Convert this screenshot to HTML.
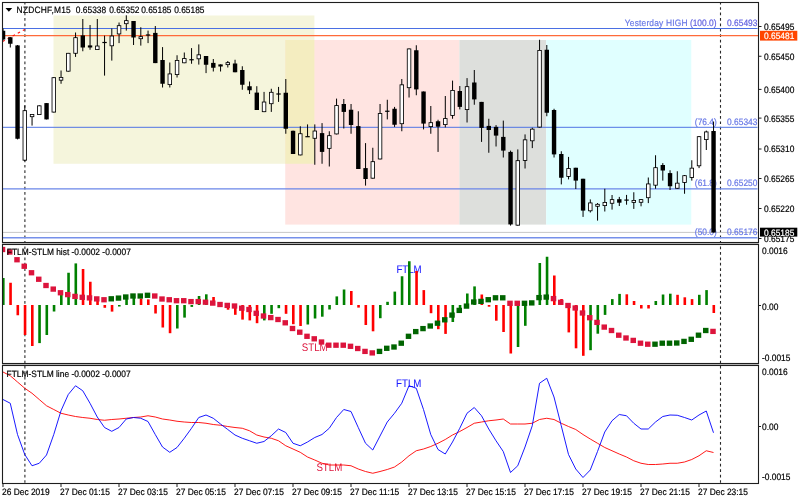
<!DOCTYPE html><html><head><meta charset="utf-8"><title>NZDCHF,M15</title><style>html,body{margin:0;padding:0;background:#fff;width:800px;height:502px;overflow:hidden}svg{display:block}</style></head><body><svg width="800" height="502" viewBox="0 0 800 502" font-family="'Liberation Sans', Arial, sans-serif" font-size="9.2" text-rendering="geometricPrecision"><rect x="0" y="0" width="800" height="502" fill="#ffffff"/><defs><clipPath id="cm"><rect x="3" y="3" width="755" height="239"/></clipPath><clipPath id="c1"><rect x="3" y="245" width="755" height="118"/></clipPath><clipPath id="c2"><rect x="3" y="366" width="755" height="117"/></clipPath></defs><g clip-path="url(#cm)"><rect x="53.5" y="15.5" width="260.9" height="148.25" fill="#F5F5DC"/><rect x="285.25" y="40" width="174.14999999999998" height="184.6" fill="#FFE4E1"/><rect x="285.25" y="40" width="29.149999999999977" height="123.75" fill="#F4EDC0"/><rect x="459.4" y="40" width="86.80000000000007" height="184.6" fill="#DDDFDC"/><rect x="546.2" y="40" width="145.04999999999995" height="184.6" fill="#E0FFFF"/><line x1="24.9" y1="3" x2="24.9" y2="242" stroke="#2a2a2a" stroke-width="1.1" stroke-dasharray="2.72,2.72" stroke-dashoffset="1.30"/><line x1="720.5" y1="3" x2="720.5" y2="242" stroke="#2a2a2a" stroke-width="1.1" stroke-dasharray="2.72,2.72" stroke-dashoffset="1.30"/><line x1="3" y1="28.5" x2="757.5" y2="28.5" stroke="#4A6FE3" stroke-width="1"/><line x1="3" y1="35.6" x2="758" y2="35.6" stroke="#FF6A3A" stroke-width="1.2"/><line x1="3" y1="127.3" x2="757.5" y2="127.3" stroke="#4F74E4" stroke-width="1"/><line x1="3" y1="188.85" x2="757.5" y2="188.85" stroke="#6A86E8" stroke-width="1.2"/><line x1="3" y1="237.75" x2="757.5" y2="237.75" stroke="#7690EA" stroke-width="1.3"/><line x1="3" y1="232.4" x2="758" y2="232.4" stroke="#C8C8C8" stroke-width="1"/><line x1="2.5" y1="41.6" x2="24.8" y2="29.4" stroke="#FF1010" stroke-width="1.1" stroke-dasharray="2.6,3.2"/><text transform="translate(624.80 26.00) scale(0.913 1)" fill="#6878E6" stroke="#6878E6" stroke-width="0.2" letter-spacing="0.2">Yesterday HIGH</text><text transform="translate(716.50 26.00) scale(0.913 1)" fill="#6262E0" stroke="#6262E0" stroke-width="0.2" text-anchor="end">(100.0)</text><text transform="translate(757.40 26.00) scale(0.913 1)" fill="#6262E0" stroke="#6262E0" stroke-width="0.2" text-anchor="end">0.65493</text><text transform="translate(716.80 125.00) scale(0.913 1)" fill="#6878E6" stroke="#6878E6" stroke-width="0.2" text-anchor="end">(76.4)</text><text transform="translate(757.40 125.00) scale(0.913 1)" fill="#6878E6" stroke="#6878E6" stroke-width="0.2" text-anchor="end">0.65343</text><text transform="translate(716.80 186.30) scale(0.913 1)" fill="#6878E6" stroke="#6878E6" stroke-width="0.2" text-anchor="end">(61.8)</text><text transform="translate(757.40 186.30) scale(0.913 1)" fill="#6878E6" stroke="#6878E6" stroke-width="0.2" text-anchor="end">0.65250</text><text transform="translate(716.80 235.40) scale(0.913 1)" fill="#6878E6" stroke="#6878E6" stroke-width="0.2" text-anchor="end">(50.0)</text><text transform="translate(757.40 235.40) scale(0.913 1)" fill="#6878E6" stroke="#6878E6" stroke-width="0.2" text-anchor="end">0.65176</text><rect x="2.55" y="28.50" width="1" height="12.00" fill="#000"/><rect x="0.85" y="30.75" width="4.4" height="8.75" fill="#000"/><rect x="9.80" y="37.00" width="1" height="10.50" fill="#000"/><rect x="8.10" y="37.25" width="4.4" height="6.50" fill="#000"/><rect x="17.05" y="45.00" width="1" height="94.40" fill="#000"/><rect x="15.35" y="45.40" width="4.4" height="93.35" fill="#000"/><rect x="24.30" y="105.60" width="1" height="55.65" fill="#000"/><rect x="22.60" y="110.25" width="4.4" height="50.35" fill="#000"/><rect x="23.45" y="111.10" width="2.70" height="48.65" fill="#fff"/><rect x="31.55" y="114.00" width="1" height="11.60" fill="#000"/><rect x="29.85" y="114.00" width="4.4" height="3.10" fill="#000"/><rect x="30.70" y="114.85" width="2.70" height="1.40" fill="#fff"/><rect x="38.80" y="105.40" width="1" height="9.60" fill="#000"/><rect x="37.10" y="105.40" width="4.4" height="9.60" fill="#000"/><rect x="37.95" y="106.25" width="2.70" height="7.90" fill="#fff"/><rect x="46.05" y="103.10" width="1" height="16.30" fill="#000"/><rect x="44.35" y="103.10" width="4.4" height="16.30" fill="#000"/><rect x="53.30" y="77.25" width="1" height="35.25" fill="#000"/><rect x="51.60" y="77.25" width="4.4" height="35.25" fill="#000"/><rect x="52.45" y="78.10" width="2.70" height="33.55" fill="#fff"/><rect x="60.55" y="70.50" width="1" height="13.25" fill="#000"/><rect x="58.85" y="77.00" width="4.4" height="3.60" fill="#000"/><rect x="59.70" y="77.85" width="2.70" height="1.90" fill="#fff"/><rect x="67.80" y="52.90" width="1" height="18.70" fill="#000"/><rect x="66.10" y="52.90" width="4.4" height="18.70" fill="#000"/><rect x="66.95" y="53.75" width="2.70" height="17.00" fill="#fff"/><rect x="75.05" y="32.50" width="1" height="24.40" fill="#000"/><rect x="73.35" y="37.25" width="4.4" height="16.45" fill="#000"/><rect x="74.20" y="38.10" width="2.70" height="14.75" fill="#fff"/><rect x="82.30" y="19.00" width="1" height="32.25" fill="#000"/><rect x="80.60" y="35.40" width="4.4" height="12.10" fill="#000"/><rect x="89.55" y="25.00" width="1" height="24.75" fill="#000"/><rect x="87.85" y="45.40" width="4.4" height="2.10" fill="#000"/><rect x="96.80" y="19.00" width="1" height="31.00" fill="#000"/><rect x="95.10" y="45.60" width="4.4" height="4.40" fill="#000"/><rect x="95.95" y="46.45" width="2.70" height="2.70" fill="#fff"/><rect x="104.05" y="35.60" width="1" height="40.00" fill="#000"/><rect x="102.35" y="41.90" width="4.4" height="1.2" fill="#000"/><rect x="111.30" y="28.50" width="1" height="32.10" fill="#000"/><rect x="109.60" y="35.60" width="4.4" height="10.60" fill="#000"/><rect x="110.45" y="36.45" width="2.70" height="8.90" fill="#fff"/><rect x="118.55" y="22.50" width="1" height="20.60" fill="#000"/><rect x="116.85" y="25.25" width="4.4" height="9.10" fill="#000"/><rect x="117.70" y="26.10" width="2.70" height="7.40" fill="#fff"/><rect x="125.80" y="15.30" width="1" height="15.30" fill="#000"/><rect x="124.10" y="20.20" width="4.4" height="3.90" fill="#000"/><rect x="124.95" y="21.05" width="2.70" height="2.20" fill="#fff"/><rect x="133.05" y="21.00" width="1" height="24.00" fill="#000"/><rect x="131.35" y="21.00" width="4.4" height="16.50" fill="#000"/><rect x="140.30" y="27.25" width="1" height="18.35" fill="#000"/><rect x="138.60" y="36.25" width="4.4" height="2.85" fill="#000"/><rect x="139.45" y="37.10" width="2.70" height="1.15" fill="#fff"/><rect x="147.55" y="30.60" width="1" height="12.50" fill="#000"/><rect x="145.85" y="34.40" width="4.4" height="1.2" fill="#000"/><rect x="154.80" y="26.00" width="1" height="37.10" fill="#000"/><rect x="153.10" y="32.90" width="4.4" height="30.20" fill="#000"/><rect x="162.05" y="47.10" width="1" height="40.40" fill="#000"/><rect x="160.35" y="60.00" width="4.4" height="23.75" fill="#000"/><rect x="169.30" y="62.50" width="1" height="25.00" fill="#000"/><rect x="167.60" y="73.50" width="4.4" height="11.50" fill="#000"/><rect x="168.45" y="74.35" width="2.70" height="9.80" fill="#fff"/><rect x="176.55" y="55.25" width="1" height="22.25" fill="#000"/><rect x="174.85" y="60.00" width="4.4" height="15.00" fill="#000"/><rect x="175.70" y="60.85" width="2.70" height="13.30" fill="#fff"/><rect x="183.80" y="52.50" width="1" height="10.70" fill="#000"/><rect x="182.10" y="58.10" width="4.4" height="5.10" fill="#000"/><rect x="182.95" y="58.95" width="2.70" height="3.40" fill="#fff"/><rect x="191.05" y="48.10" width="1" height="15.65" fill="#000"/><rect x="189.35" y="59.15" width="4.4" height="1.2" fill="#000"/><rect x="198.30" y="44.40" width="1" height="20.20" fill="#000"/><rect x="196.60" y="54.40" width="4.4" height="4.80" fill="#000"/><rect x="197.45" y="55.25" width="2.70" height="3.10" fill="#fff"/><rect x="205.55" y="56.00" width="1" height="17.10" fill="#000"/><rect x="203.85" y="56.00" width="4.4" height="8.75" fill="#000"/><rect x="212.80" y="59.00" width="1" height="12.50" fill="#000"/><rect x="211.10" y="62.90" width="4.4" height="4.85" fill="#000"/><rect x="220.05" y="64.40" width="1" height="7.10" fill="#000"/><rect x="218.35" y="64.40" width="4.4" height="2.10" fill="#000"/><rect x="227.30" y="61.00" width="1" height="6.50" fill="#000"/><rect x="225.60" y="62.23" width="4.4" height="2.80" fill="#000"/><rect x="226.45" y="63.08" width="2.70" height="1.10" fill="#fff"/><rect x="234.55" y="59.75" width="1" height="12.50" fill="#000"/><rect x="232.85" y="63.50" width="4.4" height="8.75" fill="#000"/><rect x="241.80" y="66.25" width="1" height="23.50" fill="#000"/><rect x="240.10" y="70.00" width="4.4" height="14.75" fill="#000"/><rect x="249.05" y="81.50" width="1" height="12.50" fill="#000"/><rect x="247.35" y="86.25" width="4.4" height="4.00" fill="#000"/><rect x="256.30" y="86.20" width="1" height="23.80" fill="#000"/><rect x="254.60" y="92.60" width="4.4" height="17.40" fill="#000"/><rect x="263.55" y="91.90" width="1" height="20.20" fill="#000"/><rect x="261.85" y="101.60" width="4.4" height="10.50" fill="#000"/><rect x="262.70" y="102.45" width="2.70" height="8.80" fill="#fff"/><rect x="270.80" y="88.75" width="1" height="23.15" fill="#000"/><rect x="269.10" y="91.90" width="4.4" height="12.20" fill="#000"/><rect x="269.95" y="92.75" width="2.70" height="10.50" fill="#fff"/><rect x="278.05" y="86.90" width="1" height="15.00" fill="#000"/><rect x="276.35" y="93.40" width="4.4" height="1.2" fill="#000"/><rect x="285.30" y="79.00" width="1" height="54.75" fill="#000"/><rect x="283.60" y="92.75" width="4.4" height="36.00" fill="#000"/><rect x="292.55" y="130.60" width="1" height="23.40" fill="#000"/><rect x="290.85" y="130.80" width="4.4" height="23.20" fill="#000"/><rect x="299.80" y="126.25" width="1" height="29.10" fill="#000"/><rect x="298.10" y="133.30" width="4.4" height="22.05" fill="#000"/><rect x="298.95" y="134.15" width="2.70" height="20.35" fill="#fff"/><rect x="307.05" y="124.40" width="1" height="12.30" fill="#000"/><rect x="305.35" y="136.10" width="4.4" height="1.2" fill="#000"/><rect x="314.30" y="124.40" width="1" height="40.35" fill="#000"/><rect x="312.60" y="130.60" width="4.4" height="8.10" fill="#000"/><rect x="313.45" y="131.45" width="2.70" height="6.40" fill="#fff"/><rect x="321.55" y="123.10" width="1" height="40.65" fill="#000"/><rect x="319.85" y="133.10" width="4.4" height="18.80" fill="#000"/><rect x="328.80" y="131.25" width="1" height="35.25" fill="#000"/><rect x="327.10" y="135.25" width="4.4" height="13.55" fill="#000"/><rect x="327.95" y="136.10" width="2.70" height="11.85" fill="#fff"/><rect x="336.05" y="98.60" width="1" height="35.80" fill="#000"/><rect x="334.35" y="105.10" width="4.4" height="29.25" fill="#000"/><rect x="335.20" y="105.95" width="2.70" height="27.55" fill="#fff"/><rect x="343.30" y="99.00" width="1" height="29.50" fill="#000"/><rect x="341.60" y="104.00" width="4.4" height="7.90" fill="#000"/><rect x="350.55" y="104.00" width="1" height="29.75" fill="#000"/><rect x="348.85" y="109.75" width="4.4" height="15.25" fill="#000"/><rect x="357.80" y="111.25" width="1" height="57.75" fill="#000"/><rect x="356.10" y="126.10" width="4.4" height="42.90" fill="#000"/><rect x="365.05" y="143.10" width="1" height="42.50" fill="#000"/><rect x="363.35" y="168.10" width="4.4" height="10.90" fill="#000"/><rect x="372.30" y="147.75" width="1" height="30.85" fill="#000"/><rect x="370.60" y="161.25" width="4.4" height="17.35" fill="#000"/><rect x="371.45" y="162.10" width="2.70" height="15.65" fill="#fff"/><rect x="379.55" y="104.00" width="1" height="55.40" fill="#000"/><rect x="377.85" y="113.10" width="4.4" height="46.30" fill="#000"/><rect x="378.70" y="113.95" width="2.70" height="44.60" fill="#fff"/><rect x="386.80" y="99.75" width="1" height="19.65" fill="#000"/><rect x="385.10" y="110.65" width="4.4" height="1.2" fill="#000"/><rect x="394.05" y="106.90" width="1" height="20.00" fill="#000"/><rect x="392.35" y="108.75" width="4.4" height="16.00" fill="#000"/><rect x="401.30" y="79.00" width="1" height="52.25" fill="#000"/><rect x="399.60" y="84.40" width="4.4" height="39.70" fill="#000"/><rect x="400.45" y="85.25" width="2.70" height="38.00" fill="#fff"/><rect x="408.55" y="48.50" width="1" height="49.00" fill="#000"/><rect x="406.85" y="48.50" width="4.4" height="39.60" fill="#000"/><rect x="407.70" y="49.35" width="2.70" height="37.90" fill="#fff"/><rect x="415.80" y="45.25" width="1" height="50.00" fill="#000"/><rect x="414.10" y="50.25" width="4.4" height="39.15" fill="#000"/><rect x="423.05" y="91.50" width="1" height="37.90" fill="#000"/><rect x="421.35" y="91.50" width="4.4" height="32.10" fill="#000"/><rect x="430.30" y="106.00" width="1" height="27.75" fill="#000"/><rect x="428.60" y="122.25" width="4.4" height="4.75" fill="#000"/><rect x="429.45" y="123.10" width="2.70" height="3.05" fill="#fff"/><rect x="437.55" y="119.75" width="1" height="32.15" fill="#000"/><rect x="435.85" y="121.25" width="4.4" height="5.45" fill="#000"/><rect x="444.80" y="96.00" width="1" height="31.40" fill="#000"/><rect x="443.10" y="118.10" width="4.4" height="6.90" fill="#000"/><rect x="443.95" y="118.95" width="2.70" height="5.20" fill="#fff"/><rect x="452.05" y="80.60" width="1" height="38.15" fill="#000"/><rect x="450.35" y="90.00" width="4.4" height="25.85" fill="#000"/><rect x="451.20" y="90.85" width="2.70" height="24.15" fill="#fff"/><rect x="459.30" y="86.00" width="1" height="23.40" fill="#000"/><rect x="457.60" y="91.00" width="4.4" height="15.90" fill="#000"/><rect x="466.55" y="78.10" width="1" height="44.40" fill="#000"/><rect x="464.85" y="86.25" width="4.4" height="23.75" fill="#000"/><rect x="465.70" y="87.10" width="2.70" height="22.05" fill="#fff"/><rect x="473.80" y="70.00" width="1" height="34.75" fill="#000"/><rect x="472.10" y="82.50" width="4.4" height="16.90" fill="#000"/><rect x="481.05" y="101.90" width="1" height="40.00" fill="#000"/><rect x="479.35" y="101.90" width="4.4" height="26.00" fill="#000"/><rect x="488.30" y="118.75" width="1" height="34.00" fill="#000"/><rect x="486.60" y="125.90" width="4.4" height="4.10" fill="#000"/><rect x="495.55" y="125.10" width="1" height="21.40" fill="#000"/><rect x="493.85" y="126.90" width="4.4" height="8.70" fill="#000"/><rect x="502.80" y="120.60" width="1" height="36.90" fill="#000"/><rect x="501.10" y="136.90" width="4.4" height="13.70" fill="#000"/><rect x="510.05" y="150.60" width="1" height="75.00" fill="#000"/><rect x="508.35" y="151.90" width="4.4" height="72.50" fill="#000"/><rect x="517.30" y="149.40" width="1" height="76.20" fill="#000"/><rect x="515.60" y="160.25" width="4.4" height="65.35" fill="#000"/><rect x="516.45" y="161.10" width="2.70" height="63.65" fill="#fff"/><rect x="524.55" y="134.40" width="1" height="34.10" fill="#000"/><rect x="522.85" y="139.40" width="4.4" height="21.45" fill="#000"/><rect x="523.70" y="140.25" width="2.70" height="19.75" fill="#fff"/><rect x="531.80" y="127.75" width="1" height="20.35" fill="#000"/><rect x="530.10" y="128.75" width="4.4" height="12.45" fill="#000"/><rect x="530.95" y="129.60" width="2.70" height="10.75" fill="#fff"/><rect x="539.05" y="39.75" width="1" height="87.75" fill="#000"/><rect x="537.35" y="50.00" width="4.4" height="77.50" fill="#000"/><rect x="538.20" y="50.85" width="2.70" height="75.80" fill="#fff"/><rect x="546.30" y="45.00" width="1" height="71.25" fill="#000"/><rect x="544.60" y="49.75" width="4.4" height="63.00" fill="#000"/><rect x="553.55" y="108.75" width="1" height="48.75" fill="#000"/><rect x="551.85" y="110.00" width="4.4" height="44.40" fill="#000"/><rect x="560.80" y="151.25" width="1" height="33.15" fill="#000"/><rect x="559.10" y="154.00" width="4.4" height="23.75" fill="#000"/><rect x="568.05" y="156.90" width="1" height="22.50" fill="#000"/><rect x="566.35" y="168.10" width="4.4" height="8.75" fill="#000"/><rect x="567.20" y="168.95" width="2.70" height="7.05" fill="#fff"/><rect x="575.30" y="167.75" width="1" height="21.25" fill="#000"/><rect x="573.60" y="167.75" width="4.4" height="12.85" fill="#000"/><rect x="582.55" y="178.75" width="1" height="38.15" fill="#000"/><rect x="580.85" y="178.75" width="4.4" height="31.85" fill="#000"/><rect x="589.80" y="199.40" width="1" height="13.10" fill="#000"/><rect x="588.10" y="202.50" width="4.4" height="8.70" fill="#000"/><rect x="588.95" y="203.35" width="2.70" height="7.00" fill="#fff"/><rect x="597.05" y="203.00" width="1" height="17.60" fill="#000"/><rect x="595.35" y="203.90" width="4.4" height="2.80" fill="#000"/><rect x="596.20" y="204.75" width="2.70" height="1.10" fill="#fff"/><rect x="604.30" y="188.75" width="1" height="22.75" fill="#000"/><rect x="602.60" y="202.00" width="4.4" height="4.00" fill="#000"/><rect x="603.45" y="202.85" width="2.70" height="2.30" fill="#fff"/><rect x="611.55" y="195.00" width="1" height="14.60" fill="#000"/><rect x="609.85" y="199.20" width="4.4" height="4.50" fill="#000"/><rect x="610.70" y="200.05" width="2.70" height="2.80" fill="#fff"/><rect x="618.80" y="196.90" width="1" height="9.10" fill="#000"/><rect x="617.10" y="199.20" width="4.4" height="3.50" fill="#000"/><rect x="626.05" y="194.90" width="1" height="9.80" fill="#000"/><rect x="624.35" y="199.50" width="4.4" height="1.2" fill="#000"/><rect x="633.30" y="192.25" width="1" height="16.65" fill="#000"/><rect x="631.60" y="200.00" width="4.4" height="2.80" fill="#000"/><rect x="632.45" y="200.85" width="2.70" height="1.10" fill="#fff"/><rect x="640.55" y="199.20" width="1" height="7.10" fill="#000"/><rect x="638.85" y="199.20" width="4.4" height="3.50" fill="#000"/><rect x="639.70" y="200.05" width="2.70" height="1.80" fill="#fff"/><rect x="647.80" y="177.50" width="1" height="25.60" fill="#000"/><rect x="646.10" y="183.50" width="4.4" height="14.60" fill="#000"/><rect x="646.95" y="184.35" width="2.70" height="12.90" fill="#fff"/><rect x="655.05" y="155.25" width="1" height="33.50" fill="#000"/><rect x="653.35" y="167.25" width="4.4" height="18.35" fill="#000"/><rect x="654.20" y="168.10" width="2.70" height="16.65" fill="#fff"/><rect x="662.30" y="163.10" width="1" height="17.50" fill="#000"/><rect x="660.60" y="165.00" width="4.4" height="5.50" fill="#000"/><rect x="669.55" y="170.25" width="1" height="19.75" fill="#000"/><rect x="667.85" y="173.10" width="4.4" height="13.15" fill="#000"/><rect x="676.80" y="171.25" width="1" height="17.45" fill="#000"/><rect x="675.10" y="182.75" width="4.4" height="5.95" fill="#000"/><rect x="675.95" y="183.60" width="2.70" height="4.25" fill="#fff"/><rect x="684.05" y="175.00" width="1" height="18.75" fill="#000"/><rect x="682.35" y="175.25" width="4.4" height="7.60" fill="#000"/><rect x="683.20" y="176.10" width="2.70" height="5.90" fill="#fff"/><rect x="691.30" y="160.25" width="1" height="20.35" fill="#000"/><rect x="689.60" y="167.75" width="4.4" height="10.10" fill="#000"/><rect x="690.45" y="168.60" width="2.70" height="8.40" fill="#fff"/><rect x="698.55" y="136.00" width="1" height="32.10" fill="#000"/><rect x="696.85" y="136.25" width="4.4" height="29.95" fill="#000"/><rect x="697.70" y="137.10" width="2.70" height="28.25" fill="#fff"/><rect x="705.80" y="130.60" width="1" height="19.40" fill="#000"/><rect x="704.10" y="131.50" width="4.4" height="8.50" fill="#000"/><rect x="704.95" y="132.35" width="2.70" height="6.80" fill="#fff"/><rect x="713.05" y="121.50" width="1" height="111.00" fill="#000"/><rect x="711.35" y="131.00" width="4.4" height="101.50" fill="#000"/></g><path d="M5.5 8 L12.2 8 L8.85 11.8 Z" fill="#000"/><text transform="translate(16.60 12.50) scale(0.913 1)" fill="#000" stroke="#000" stroke-width="0.2" letter-spacing="0.24">NZDCHF,M15</text><text transform="translate(75.80 12.50) scale(0.913 1)" fill="#000" stroke="#000" stroke-width="0.2">0.65338</text><text transform="translate(109.20 12.50) scale(0.913 1)" fill="#000" stroke="#000" stroke-width="0.2">0.65352</text><text transform="translate(141.20 12.50) scale(0.913 1)" fill="#000" stroke="#000" stroke-width="0.2">0.65185</text><text transform="translate(174.20 12.50) scale(0.913 1)" fill="#000" stroke="#000" stroke-width="0.2">0.65185</text><g clip-path="url(#c1)"><line x1="24.9" y1="245" x2="24.9" y2="363" stroke="#2a2a2a" stroke-width="1.1" stroke-dasharray="2.72,2.72" stroke-dashoffset="3.89"/><line x1="720.5" y1="245" x2="720.5" y2="363" stroke="#2a2a2a" stroke-width="1.1" stroke-dasharray="2.72,2.72" stroke-dashoffset="3.89"/><text transform="translate(396.40 272.80) scale(0.88 1)" fill="#2020FF" stroke="#2020FF" stroke-width="0.1" font-size="11">FTLM</text><text transform="translate(301.80 350.60) scale(0.88 1)" fill="#DC143C" font-size="11">STLM</text><rect x="2.00" y="278.00" width="2.6" height="27.00" fill="#008000"/><rect x="9.25" y="282.75" width="2.6" height="22.25" fill="#FF0000"/><rect x="16.50" y="305.00" width="2.6" height="10.25" fill="#FF0000"/><rect x="23.75" y="305.00" width="2.6" height="30.00" fill="#FF0000"/><rect x="31.00" y="305.00" width="2.6" height="41.00" fill="#FF0000"/><rect x="38.25" y="305.00" width="2.6" height="38.10" fill="#008000"/><rect x="45.50" y="305.00" width="2.6" height="30.00" fill="#008000"/><rect x="52.75" y="305.00" width="2.6" height="6.50" fill="#008000"/><rect x="60.00" y="294.00" width="2.6" height="11.00" fill="#008000"/><rect x="67.25" y="272.75" width="2.6" height="32.25" fill="#008000"/><rect x="74.50" y="263.40" width="2.6" height="41.60" fill="#008000"/><rect x="81.75" y="269.00" width="2.6" height="36.00" fill="#FF0000"/><rect x="89.00" y="281.75" width="2.6" height="23.25" fill="#FF0000"/><rect x="96.25" y="298.00" width="2.6" height="7.00" fill="#FF0000"/><rect x="103.50" y="305.00" width="2.6" height="2.80" fill="#FF0000"/><rect x="110.75" y="305.00" width="2.6" height="6.60" fill="#FF0000"/><rect x="118.00" y="305.00" width="2.6" height="1.50" fill="#008000"/><rect x="125.25" y="297.00" width="2.6" height="8.00" fill="#008000"/><rect x="132.50" y="296.00" width="2.6" height="9.00" fill="#008000"/><rect x="139.75" y="298.50" width="2.6" height="6.50" fill="#FF0000"/><rect x="147.00" y="299.40" width="2.6" height="5.60" fill="#FF0000"/><rect x="154.25" y="305.00" width="2.6" height="8.50" fill="#FF0000"/><rect x="161.50" y="305.00" width="2.6" height="22.50" fill="#FF0000"/><rect x="168.75" y="305.00" width="2.6" height="28.20" fill="#FF0000"/><rect x="176.00" y="305.00" width="2.6" height="23.50" fill="#008000"/><rect x="183.25" y="305.00" width="2.6" height="12.60" fill="#008000"/><rect x="190.50" y="305.00" width="2.6" height="1.90" fill="#008000"/><rect x="197.75" y="296.00" width="2.6" height="9.00" fill="#008000"/><rect x="205.00" y="294.30" width="2.6" height="10.70" fill="#008000"/><rect x="212.25" y="297.00" width="2.6" height="8.00" fill="#FF0000"/><rect x="219.50" y="302.00" width="2.6" height="3.00" fill="#FF0000"/><rect x="226.75" y="305.00" width="2.6" height="4.70" fill="#FF0000"/><rect x="234.00" y="305.00" width="2.6" height="9.80" fill="#FF0000"/><rect x="241.25" y="305.00" width="2.6" height="14.60" fill="#FF0000"/><rect x="248.50" y="305.00" width="2.6" height="15.40" fill="#FF0000"/><rect x="255.75" y="305.00" width="2.6" height="18.20" fill="#FF0000"/><rect x="263.00" y="305.00" width="2.6" height="15.40" fill="#008000"/><rect x="270.25" y="305.00" width="2.6" height="8.80" fill="#008000"/><rect x="277.50" y="305.00" width="2.6" height="3.20" fill="#008000"/><rect x="284.75" y="305.00" width="2.6" height="8.80" fill="#FF0000"/><rect x="292.00" y="305.00" width="2.6" height="19.20" fill="#FF0000"/><rect x="299.25" y="305.00" width="2.6" height="21.00" fill="#FF0000"/><rect x="306.50" y="305.00" width="2.6" height="19.50" fill="#008000"/><rect x="313.75" y="305.00" width="2.6" height="13.50" fill="#008000"/><rect x="321.00" y="305.00" width="2.6" height="11.70" fill="#008000"/><rect x="328.25" y="305.00" width="2.6" height="4.50" fill="#008000"/><rect x="335.50" y="296.40" width="2.6" height="8.60" fill="#008000"/><rect x="342.75" y="289.50" width="2.6" height="15.50" fill="#008000"/><rect x="350.00" y="291.00" width="2.6" height="14.00" fill="#FF0000"/><rect x="357.25" y="305.00" width="2.6" height="2.60" fill="#FF0000"/><rect x="364.50" y="305.00" width="2.6" height="20.00" fill="#FF0000"/><rect x="371.75" y="305.00" width="2.6" height="26.30" fill="#FF0000"/><rect x="379.00" y="305.00" width="2.6" height="13.20" fill="#008000"/><rect x="386.25" y="301.80" width="2.6" height="3.20" fill="#008000"/><rect x="393.50" y="291.60" width="2.6" height="13.40" fill="#008000"/><rect x="400.75" y="276.25" width="2.6" height="28.75" fill="#008000"/><rect x="408.00" y="261.25" width="2.6" height="43.75" fill="#008000"/><rect x="415.25" y="271.00" width="2.6" height="34.00" fill="#FF0000"/><rect x="422.50" y="290.10" width="2.6" height="14.90" fill="#FF0000"/><rect x="429.75" y="305.00" width="2.6" height="8.20" fill="#FF0000"/><rect x="437.00" y="305.00" width="2.6" height="24.20" fill="#FF0000"/><rect x="444.25" y="305.00" width="2.6" height="28.90" fill="#FF0000"/><rect x="451.50" y="305.00" width="2.6" height="17.00" fill="#008000"/><rect x="458.75" y="305.00" width="2.6" height="7.30" fill="#008000"/><rect x="466.00" y="293.50" width="2.6" height="11.50" fill="#008000"/><rect x="473.25" y="286.40" width="2.6" height="18.60" fill="#008000"/><rect x="480.50" y="294.50" width="2.6" height="10.50" fill="#FF0000"/><rect x="487.75" y="305.00" width="2.6" height="1.70" fill="#FF0000"/><rect x="495.00" y="305.00" width="2.6" height="15.70" fill="#FF0000"/><rect x="502.25" y="305.00" width="2.6" height="27.00" fill="#FF0000"/><rect x="509.50" y="305.00" width="2.6" height="48.50" fill="#FF0000"/><rect x="516.75" y="305.00" width="2.6" height="42.00" fill="#008000"/><rect x="524.00" y="305.00" width="2.6" height="20.80" fill="#008000"/><rect x="531.25" y="301.00" width="2.6" height="4.00" fill="#008000"/><rect x="538.50" y="263.00" width="2.6" height="42.00" fill="#008000"/><rect x="545.75" y="256.75" width="2.6" height="48.25" fill="#008000"/><rect x="553.00" y="275.50" width="2.6" height="29.50" fill="#FF0000"/><rect x="560.25" y="299.00" width="2.6" height="6.00" fill="#FF0000"/><rect x="567.50" y="305.00" width="2.6" height="27.40" fill="#FF0000"/><rect x="574.75" y="305.00" width="2.6" height="43.30" fill="#FF0000"/><rect x="582.00" y="305.00" width="2.6" height="50.80" fill="#FF0000"/><rect x="589.25" y="305.00" width="2.6" height="45.20" fill="#008000"/><rect x="596.50" y="305.00" width="2.6" height="28.70" fill="#008000"/><rect x="603.75" y="305.00" width="2.6" height="9.90" fill="#008000"/><rect x="611.00" y="299.10" width="2.6" height="5.90" fill="#008000"/><rect x="618.25" y="293.90" width="2.6" height="11.10" fill="#008000"/><rect x="625.50" y="294.30" width="2.6" height="10.70" fill="#FF0000"/><rect x="632.75" y="301.00" width="2.6" height="4.00" fill="#FF0000"/><rect x="640.00" y="305.00" width="2.6" height="3.50" fill="#FF0000"/><rect x="647.25" y="305.00" width="2.6" height="3.50" fill="#FF0000"/><rect x="654.50" y="301.00" width="2.6" height="4.00" fill="#008000"/><rect x="661.75" y="294.50" width="2.6" height="10.50" fill="#008000"/><rect x="669.00" y="293.70" width="2.6" height="11.30" fill="#008000"/><rect x="676.25" y="294.80" width="2.6" height="10.20" fill="#FF0000"/><rect x="683.50" y="297.30" width="2.6" height="7.70" fill="#FF0000"/><rect x="690.75" y="299.10" width="2.6" height="5.90" fill="#FF0000"/><rect x="698.00" y="294.80" width="2.6" height="10.20" fill="#008000"/><rect x="705.25" y="290.10" width="2.6" height="14.90" fill="#008000"/><rect x="712.50" y="305.00" width="2.6" height="8.00" fill="#FF0000"/><rect x="-0.25" y="246.85" width="5.5" height="5.3" fill="#DC143C"/><rect x="7.00" y="249.35" width="5.5" height="5.3" fill="#DC143C"/><rect x="14.25" y="257.10" width="5.5" height="5.3" fill="#DC143C"/><rect x="21.50" y="263.60" width="5.5" height="5.3" fill="#DC143C"/><rect x="28.75" y="270.10" width="5.5" height="5.3" fill="#DC143C"/><rect x="36.00" y="276.60" width="5.5" height="5.3" fill="#DC143C"/><rect x="43.25" y="282.85" width="5.5" height="5.3" fill="#DC143C"/><rect x="50.50" y="286.45" width="5.5" height="5.3" fill="#DC143C"/><rect x="57.75" y="290.10" width="5.5" height="5.3" fill="#DC143C"/><rect x="65.00" y="291.95" width="5.5" height="5.3" fill="#DC143C"/><rect x="72.25" y="293.75" width="5.5" height="5.3" fill="#DC143C"/><rect x="79.50" y="294.65" width="5.5" height="5.3" fill="#DC143C"/><rect x="86.75" y="295.25" width="5.5" height="5.3" fill="#DC143C"/><rect x="94.00" y="296.25" width="5.5" height="5.3" fill="#DC143C"/><rect x="101.25" y="297.10" width="5.5" height="5.3" fill="#DC143C"/><rect x="108.50" y="296.15" width="5.5" height="5.3" fill="#006400"/><rect x="115.75" y="295.45" width="5.5" height="5.3" fill="#006400"/><rect x="123.00" y="294.35" width="5.5" height="5.3" fill="#006400"/><rect x="130.25" y="293.35" width="5.5" height="5.3" fill="#006400"/><rect x="137.50" y="293.35" width="5.5" height="5.3" fill="#006400"/><rect x="144.75" y="292.65" width="5.5" height="5.3" fill="#006400"/><rect x="152.00" y="293.35" width="5.5" height="5.3" fill="#DC143C"/><rect x="159.25" y="296.35" width="5.5" height="5.3" fill="#DC143C"/><rect x="166.50" y="297.10" width="5.5" height="5.3" fill="#DC143C"/><rect x="173.75" y="298.05" width="5.5" height="5.3" fill="#DC143C"/><rect x="181.00" y="298.05" width="5.5" height="5.3" fill="#DC143C"/><rect x="188.25" y="298.95" width="5.5" height="5.3" fill="#DC143C"/><rect x="195.50" y="298.95" width="5.5" height="5.3" fill="#DC143C"/><rect x="202.75" y="299.55" width="5.5" height="5.3" fill="#DC143C"/><rect x="210.00" y="300.45" width="5.5" height="5.3" fill="#DC143C"/><rect x="217.25" y="301.85" width="5.5" height="5.3" fill="#DC143C"/><rect x="224.50" y="302.75" width="5.5" height="5.3" fill="#DC143C"/><rect x="231.75" y="303.35" width="5.5" height="5.3" fill="#DC143C"/><rect x="239.00" y="305.55" width="5.5" height="5.3" fill="#DC143C"/><rect x="246.25" y="306.85" width="5.5" height="5.3" fill="#DC143C"/><rect x="253.50" y="310.65" width="5.5" height="5.3" fill="#DC143C"/><rect x="260.75" y="313.35" width="5.5" height="5.3" fill="#DC143C"/><rect x="268.00" y="314.95" width="5.5" height="5.3" fill="#DC143C"/><rect x="275.25" y="316.85" width="5.5" height="5.3" fill="#DC143C"/><rect x="282.50" y="320.15" width="5.5" height="5.3" fill="#DC143C"/><rect x="289.75" y="325.85" width="5.5" height="5.3" fill="#DC143C"/><rect x="297.00" y="329.55" width="5.5" height="5.3" fill="#DC143C"/><rect x="304.25" y="333.65" width="5.5" height="5.3" fill="#DC143C"/><rect x="311.50" y="336.15" width="5.5" height="5.3" fill="#DC143C"/><rect x="318.75" y="339.35" width="5.5" height="5.3" fill="#DC143C"/><rect x="326.00" y="342.55" width="5.5" height="5.3" fill="#DC143C"/><rect x="333.25" y="342.55" width="5.5" height="5.3" fill="#DC143C"/><rect x="340.50" y="342.55" width="5.5" height="5.3" fill="#DC143C"/><rect x="347.75" y="343.65" width="5.5" height="5.3" fill="#DC143C"/><rect x="355.00" y="345.85" width="5.5" height="5.3" fill="#DC143C"/><rect x="362.25" y="348.75" width="5.5" height="5.3" fill="#DC143C"/><rect x="369.50" y="350.25" width="5.5" height="5.3" fill="#DC143C"/><rect x="376.75" y="348.75" width="5.5" height="5.3" fill="#006400"/><rect x="384.00" y="345.65" width="5.5" height="5.3" fill="#006400"/><rect x="391.25" y="344.35" width="5.5" height="5.3" fill="#006400"/><rect x="398.50" y="340.55" width="5.5" height="5.3" fill="#006400"/><rect x="405.75" y="333.65" width="5.5" height="5.3" fill="#006400"/><rect x="413.00" y="328.95" width="5.5" height="5.3" fill="#006400"/><rect x="420.25" y="325.95" width="5.5" height="5.3" fill="#006400"/><rect x="427.50" y="323.35" width="5.5" height="5.3" fill="#006400"/><rect x="434.75" y="320.55" width="5.5" height="5.3" fill="#006400"/><rect x="442.00" y="317.15" width="5.5" height="5.3" fill="#006400"/><rect x="449.25" y="312.45" width="5.5" height="5.3" fill="#006400"/><rect x="456.50" y="307.75" width="5.5" height="5.3" fill="#006400"/><rect x="463.75" y="303.45" width="5.5" height="5.3" fill="#006400"/><rect x="471.00" y="299.35" width="5.5" height="5.3" fill="#006400"/><rect x="478.25" y="298.75" width="5.5" height="5.3" fill="#006400"/><rect x="485.50" y="297.05" width="5.5" height="5.3" fill="#006400"/><rect x="492.75" y="295.15" width="5.5" height="5.3" fill="#006400"/><rect x="500.00" y="295.15" width="5.5" height="5.3" fill="#006400"/><rect x="507.25" y="300.65" width="5.5" height="5.3" fill="#DC143C"/><rect x="514.50" y="300.65" width="5.5" height="5.3" fill="#DC143C"/><rect x="521.75" y="300.65" width="5.5" height="5.3" fill="#006400"/><rect x="529.00" y="300.25" width="5.5" height="5.3" fill="#006400"/><rect x="536.25" y="294.95" width="5.5" height="5.3" fill="#006400"/><rect x="543.50" y="294.45" width="5.5" height="5.3" fill="#006400"/><rect x="550.75" y="295.95" width="5.5" height="5.3" fill="#DC143C"/><rect x="558.00" y="299.65" width="5.5" height="5.3" fill="#DC143C"/><rect x="565.25" y="302.85" width="5.5" height="5.3" fill="#DC143C"/><rect x="572.50" y="305.35" width="5.5" height="5.3" fill="#DC143C"/><rect x="579.75" y="310.35" width="5.5" height="5.3" fill="#DC143C"/><rect x="587.00" y="315.05" width="5.5" height="5.3" fill="#DC143C"/><rect x="594.25" y="319.75" width="5.5" height="5.3" fill="#DC143C"/><rect x="601.50" y="324.45" width="5.5" height="5.3" fill="#DC143C"/><rect x="608.75" y="327.85" width="5.5" height="5.3" fill="#DC143C"/><rect x="616.00" y="332.55" width="5.5" height="5.3" fill="#DC143C"/><rect x="623.25" y="335.35" width="5.5" height="5.3" fill="#DC143C"/><rect x="630.50" y="337.75" width="5.5" height="5.3" fill="#DC143C"/><rect x="637.75" y="340.55" width="5.5" height="5.3" fill="#DC143C"/><rect x="645.00" y="341.55" width="5.5" height="5.3" fill="#DC143C"/><rect x="652.25" y="341.55" width="5.5" height="5.3" fill="#006400"/><rect x="659.50" y="340.55" width="5.5" height="5.3" fill="#006400"/><rect x="666.75" y="340.55" width="5.5" height="5.3" fill="#006400"/><rect x="674.00" y="340.35" width="5.5" height="5.3" fill="#006400"/><rect x="681.25" y="338.75" width="5.5" height="5.3" fill="#006400"/><rect x="688.50" y="336.65" width="5.5" height="5.3" fill="#006400"/><rect x="695.75" y="332.55" width="5.5" height="5.3" fill="#006400"/><rect x="703.00" y="327.85" width="5.5" height="5.3" fill="#006400"/><rect x="710.25" y="328.75" width="5.5" height="5.3" fill="#DC143C"/></g><text transform="translate(6.80 255.40) scale(0.913 1)" fill="#000" stroke="#000" stroke-width="0.2">FTLM-STLM hist -0.0002 -0.0007</text><g clip-path="url(#c2)"><line x1="24.9" y1="366" x2="24.9" y2="483" stroke="#2a2a2a" stroke-width="1.1" stroke-dasharray="2.72,2.72" stroke-dashoffset="0.10"/><line x1="720.5" y1="366" x2="720.5" y2="483" stroke="#2a2a2a" stroke-width="1.1" stroke-dasharray="2.72,2.72" stroke-dashoffset="0.10"/><text transform="translate(396.10 386.80) scale(0.88 1)" fill="#2020FF" stroke="#2020FF" stroke-width="0.1" font-size="11">FTLM</text><text transform="translate(316.40 470.90) scale(0.88 1)" fill="#DC143C" font-size="11">STLM</text><polyline points="3.00,372.00 10.25,375.75 17.50,382.00 24.75,388.25 32.00,393.25 39.25,399.50 46.50,405.75 53.75,409.50 61.00,413.25 68.25,415.00 75.50,416.50 82.75,417.50 90.00,418.25 97.25,419.50 104.50,420.25 111.75,419.50 119.00,419.00 126.25,418.25 133.50,417.50 140.75,417.00 148.00,415.75 155.25,417.00 162.50,419.00 169.75,420.00 177.00,421.25 184.25,422.00 191.50,422.50 198.75,422.50 206.00,423.25 213.25,424.50 220.50,425.25 227.75,426.50 235.00,427.50 242.25,428.25 249.50,430.75 256.75,435.00 264.00,437.00 271.25,438.25 278.50,440.75 285.75,445.75 293.00,449.00 300.25,452.30 307.50,457.00 314.75,460.00 322.00,463.25 329.25,465.00 336.50,465.00 343.75,465.00 351.00,465.75 358.25,469.00 365.50,471.50 372.75,473.25 380.00,471.50 387.25,469.50 394.50,467.00 401.75,462.00 409.00,455.75 416.25,450.75 423.50,449.00 430.75,446.50 438.00,443.25 445.25,439.50 452.50,435.00 459.75,431.50 467.00,427.50 474.25,423.25 481.50,422.00 488.75,420.75 496.00,420.00 503.25,419.00 510.50,424.00 517.75,424.00 525.00,424.00 532.25,423.25 539.50,419.50 546.75,418.25 554.00,419.50 561.25,423.25 568.50,426.50 575.75,429.50 583.00,434.50 590.25,439.00 597.50,443.25 604.75,447.50 612.00,450.75 619.25,454.00 626.50,457.00 633.75,460.75 641.00,463.25 648.25,464.50 655.50,464.50 662.75,464.00 670.00,463.25 677.25,463.25 684.50,462.00 691.75,459.50 699.00,455.75 706.25,450.75 713.50,452.50" fill="none" stroke="#FF0000" stroke-width="0.9" stroke-linejoin="round"/><polyline points="3.00,399.50 10.25,403.25 17.50,434.50 24.75,454.50 32.00,465.75 39.25,463.25 46.50,455.00 53.75,434.50 61.00,410.75 68.25,394.50 75.50,385.75 82.75,390.75 90.00,403.25 97.25,417.00 104.50,427.50 111.75,431.30 119.00,427.50 126.25,419.00 133.50,417.50 140.75,418.25 148.00,421.50 155.25,434.50 162.50,447.00 169.75,452.30 177.00,447.50 184.25,438.25 191.50,428.25 198.75,417.50 206.00,415.00 213.25,418.25 220.50,424.00 227.75,429.50 235.00,435.00 242.25,438.25 249.50,440.75 256.75,443.25 264.00,441.50 271.25,435.75 278.50,429.00 285.75,432.50 293.00,443.25 300.25,445.75 307.50,442.00 314.75,437.50 322.00,434.50 329.25,428.25 336.50,417.50 343.75,409.50 351.00,411.50 358.25,427.50 365.50,443.25 372.75,450.00 380.00,436.00 387.25,422.00 394.50,413.25 401.75,403.25 409.00,385.75 416.25,388.25 423.50,409.50 430.75,434.50 438.00,449.50 445.25,454.00 452.50,442.00 459.75,428.25 467.00,413.25 474.25,407.50 481.50,415.75 488.75,429.00 496.00,440.75 503.25,451.50 510.50,472.50 517.75,465.75 525.00,447.00 532.25,425.75 539.50,383.25 546.75,378.25 554.00,397.00 561.25,425.75 568.50,454.50 575.75,469.00 583.00,477.50 590.25,470.00 597.50,451.50 604.75,432.00 612.00,420.75 619.25,414.50 626.50,415.75 633.75,423.25 641.00,429.00 648.25,429.00 655.50,422.00 662.75,416.50 670.00,415.00 677.25,415.25 684.50,417.50 691.75,420.00 699.00,415.00 706.25,411.00 713.50,432.75" fill="none" stroke="#0000FF" stroke-width="0.9" stroke-linejoin="round"/></g><text transform="translate(6.60 377.20) scale(0.913 1)" fill="#000" stroke="#000" stroke-width="0.2">FTLM-STLM line -0.0002 -0.0007</text><line x1="2" y1="243.4" x2="759" y2="243.4" stroke="#b8b8b8" stroke-width="1"/><line x1="2" y1="364.4" x2="759" y2="364.4" stroke="#b8b8b8" stroke-width="1"/><rect x="2.5" y="2.5" width="756" height="240.0" fill="none" stroke="#1e1e1e" stroke-width="1.1"/><rect x="2.5" y="244.5" width="756" height="119.0" fill="none" stroke="#1e1e1e" stroke-width="1.1"/><rect x="2.5" y="365.5" width="756" height="118.0" fill="none" stroke="#1e1e1e" stroke-width="1.1"/><line x1="759" y1="26.5" x2="761.5" y2="26.5" stroke="#1e1e1e" stroke-width="1"/><text transform="translate(764.00 29.90) scale(0.913 1)" fill="#000" stroke="#000" stroke-width="0.2">0.65495</text><line x1="759" y1="56.25" x2="761.5" y2="56.25" stroke="#1e1e1e" stroke-width="1"/><text transform="translate(764.00 59.65) scale(0.913 1)" fill="#000" stroke="#000" stroke-width="0.2">0.65450</text><line x1="759" y1="89.4" x2="761.5" y2="89.4" stroke="#1e1e1e" stroke-width="1"/><text transform="translate(764.00 92.80) scale(0.913 1)" fill="#000" stroke="#000" stroke-width="0.2">0.65400</text><line x1="759" y1="118.1" x2="761.5" y2="118.1" stroke="#1e1e1e" stroke-width="1"/><text transform="translate(764.00 121.50) scale(0.913 1)" fill="#000" stroke="#000" stroke-width="0.2">0.65355</text><line x1="759" y1="149" x2="761.5" y2="149" stroke="#1e1e1e" stroke-width="1"/><text transform="translate(764.00 152.40) scale(0.913 1)" fill="#000" stroke="#000" stroke-width="0.2">0.65310</text><line x1="759" y1="178.5" x2="761.5" y2="178.5" stroke="#1e1e1e" stroke-width="1"/><text transform="translate(764.00 181.90) scale(0.913 1)" fill="#000" stroke="#000" stroke-width="0.2">0.65265</text><line x1="759" y1="208.5" x2="761.5" y2="208.5" stroke="#1e1e1e" stroke-width="1"/><text transform="translate(764.00 211.90) scale(0.913 1)" fill="#000" stroke="#000" stroke-width="0.2">0.65220</text><line x1="759" y1="238.5" x2="761.5" y2="238.5" stroke="#1e1e1e" stroke-width="1"/><text transform="translate(764.00 241.90) scale(0.913 1)" fill="#000" stroke="#000" stroke-width="0.2">0.65175</text><rect x="760" y="30.8" width="37.3" height="9.8" fill="#FF4500"/><text transform="translate(764.00 39.20) scale(0.913 1)" fill="#fff" stroke="#fff" stroke-width="0.2">0.65481</text><rect x="760" y="227.7" width="37.3" height="8.9" fill="#000"/><text transform="translate(764.00 235.60) scale(0.913 1)" fill="#fff" stroke="#fff" stroke-width="0.2">0.65185</text><text transform="translate(762.00 253.60) scale(0.913 1)" fill="#000" stroke="#000" stroke-width="0.2">0.0016</text><text transform="translate(762.00 309.60) scale(0.913 1)" fill="#000" stroke="#000" stroke-width="0.2">0.00</text><text transform="translate(762.00 360.70) scale(0.913 1)" fill="#000" stroke="#000" stroke-width="0.2">-0.0015</text><text transform="translate(762.00 374.90) scale(0.913 1)" fill="#000" stroke="#000" stroke-width="0.2">0.0016</text><text transform="translate(762.00 430.00) scale(0.913 1)" fill="#000" stroke="#000" stroke-width="0.2">0.00</text><text transform="translate(762.00 480.30) scale(0.913 1)" fill="#000" stroke="#000" stroke-width="0.2">-0.0015</text><line x1="759" y1="305.5" x2="761" y2="305.5" stroke="#1e1e1e" stroke-width="1"/><line x1="759" y1="426.5" x2="761" y2="426.5" stroke="#1e1e1e" stroke-width="1"/><line x1="3.0" y1="484" x2="3.0" y2="487" stroke="#1e1e1e" stroke-width="1"/><text transform="translate(2.00 495.00) scale(0.913 1)" fill="#000" stroke="#000" stroke-width="0.2">26 Dec 2019</text><line x1="61.0" y1="484" x2="61.0" y2="487" stroke="#1e1e1e" stroke-width="1"/><text transform="translate(60.00 495.00) scale(0.913 1)" fill="#000" stroke="#000" stroke-width="0.2">27 Dec 01:15</text><line x1="119.0" y1="484" x2="119.0" y2="487" stroke="#1e1e1e" stroke-width="1"/><text transform="translate(118.00 495.00) scale(0.913 1)" fill="#000" stroke="#000" stroke-width="0.2">27 Dec 03:15</text><line x1="177.0" y1="484" x2="177.0" y2="487" stroke="#1e1e1e" stroke-width="1"/><text transform="translate(176.00 495.00) scale(0.913 1)" fill="#000" stroke="#000" stroke-width="0.2">27 Dec 05:15</text><line x1="235.0" y1="484" x2="235.0" y2="487" stroke="#1e1e1e" stroke-width="1"/><text transform="translate(234.00 495.00) scale(0.913 1)" fill="#000" stroke="#000" stroke-width="0.2">27 Dec 07:15</text><line x1="293.0" y1="484" x2="293.0" y2="487" stroke="#1e1e1e" stroke-width="1"/><text transform="translate(292.00 495.00) scale(0.913 1)" fill="#000" stroke="#000" stroke-width="0.2">27 Dec 09:15</text><line x1="351.0" y1="484" x2="351.0" y2="487" stroke="#1e1e1e" stroke-width="1"/><text transform="translate(350.00 495.00) scale(0.913 1)" fill="#000" stroke="#000" stroke-width="0.2">27 Dec 11:15</text><line x1="409.0" y1="484" x2="409.0" y2="487" stroke="#1e1e1e" stroke-width="1"/><text transform="translate(408.00 495.00) scale(0.913 1)" fill="#000" stroke="#000" stroke-width="0.2">27 Dec 13:15</text><line x1="467.0" y1="484" x2="467.0" y2="487" stroke="#1e1e1e" stroke-width="1"/><text transform="translate(466.00 495.00) scale(0.913 1)" fill="#000" stroke="#000" stroke-width="0.2">27 Dec 15:15</text><line x1="525.0" y1="484" x2="525.0" y2="487" stroke="#1e1e1e" stroke-width="1"/><text transform="translate(524.00 495.00) scale(0.913 1)" fill="#000" stroke="#000" stroke-width="0.2">27 Dec 17:15</text><line x1="583.0" y1="484" x2="583.0" y2="487" stroke="#1e1e1e" stroke-width="1"/><text transform="translate(582.00 495.00) scale(0.913 1)" fill="#000" stroke="#000" stroke-width="0.2">27 Dec 19:15</text><line x1="641.0" y1="484" x2="641.0" y2="487" stroke="#1e1e1e" stroke-width="1"/><text transform="translate(640.00 495.00) scale(0.913 1)" fill="#000" stroke="#000" stroke-width="0.2">27 Dec 21:15</text><line x1="699.0" y1="484" x2="699.0" y2="487" stroke="#1e1e1e" stroke-width="1"/><text transform="translate(698.00 495.00) scale(0.913 1)" fill="#000" stroke="#000" stroke-width="0.2">27 Dec 23:15</text></svg></body></html>
